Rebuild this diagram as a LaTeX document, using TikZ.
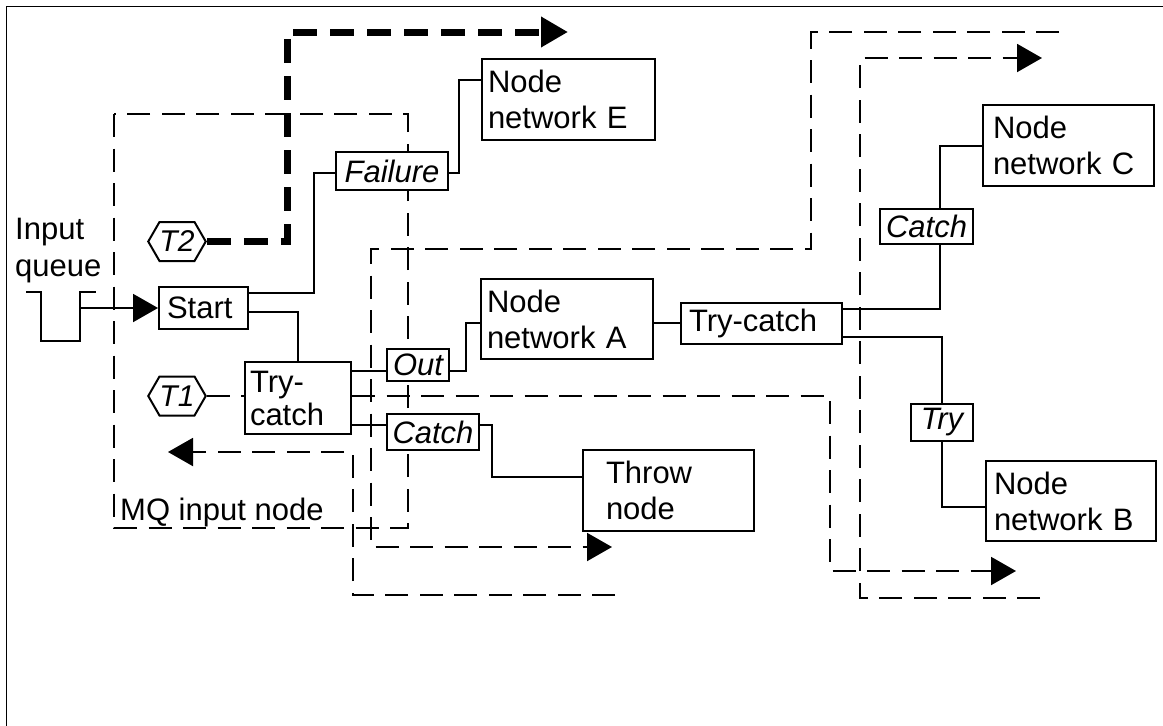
\documentclass[tikz,border=0pt]{standalone}
\usepackage{fontspec}
\setmainfont{Liberation Sans}
\usetikzlibrary{arrows.meta,shapes.symbols,backgrounds}
\begin{document}
\begin{tikzpicture}[x=1pt,y=-1pt,
  bx/.style={draw, line width=2pt, fill=white, anchor=north west, inner ysep=0pt, align=left, font=\fontsize{31}{36}\selectfont},
  lbl/.style={draw, line width=2pt, fill=white, anchor=north west, inner sep=0pt, align=center, font=\fontsize{31}{36}\selectfont\itshape},
  hex/.style={draw, line width=2pt, fill=white, signal, signal to=east and west, signal pointer angle=120, minimum width=49pt, minimum height=39pt, inner sep=0pt, font=\fontsize{30}{32}\selectfont\itshape},
  txt/.style={inner sep=0pt, align=left, font=\fontsize{31}{37}\selectfont},
  conn/.style={line width=2pt},
  flowopen/.style={line width=2pt, dash pattern=on 23pt off 11.5pt},
  flow/.style={flowopen, -{Triangle[length=25pt,width=28pt]}},
  thickflow/.style={line width=7pt, dash pattern=on 24pt off 13pt, -{Triangle[length=27pt,width=29pt]}},
  arr/.style={conn, -{Triangle[length=25pt,width=28pt]}}
]
\useasboundingbox (0,0) rectangle (1163,726);

% frame (only top and left are inside the picture)
\draw[line width=1.5pt] (6.5,760) -- (6.5,6.5) -- (1180,6.5);

% nodes
\node[bx, minimum width=173pt, minimum height=81pt, text width=161pt, inner xsep=6pt] (E) at (481,58) {Node\\network E};
\node[bx, minimum width=172pt, minimum height=80pt, text width=160pt, inner xsep=6pt] (NA) at (480,278) {Node\\network A};
\node[bx, minimum width=171pt, minimum height=81pt, text width=151pt, inner xsep=10pt] (NC) at (982,104) {Node\\network C};
\node[bx, minimum width=170pt, minimum height=80pt, text width=154pt, inner xsep=8pt] (NB) at (985,460) {Node\\network B};
\node[bx, minimum width=171pt, minimum height=81pt, text width=125pt, inner xsep=23pt] (TH) at (582,449) {Throw\\node};
\node[bx, minimum width=161pt, minimum height=41pt, text width=145pt, inner xsep=8pt] (TC2) at (680,302) {Try-catch};
\node[bx, minimum width=89pt, minimum height=42pt, text width=73pt, inner xsep=8pt] (ST) at (158,286) {Start};
\node[bx, minimum width=106pt, minimum height=72pt, text width=96pt, inner xsep=5pt, font=\fontsize{31}{33}\selectfont] (TC1) at (244,361) {Try-\\catch};

\node[lbl, minimum width=112pt, minimum height=38pt] (FA) at (335,151) {Failure};
\node[lbl, minimum width=62pt, minimum height=32pt] (OUT) at (386,348) {Out};
\node[lbl, minimum width=92pt, minimum height=36pt] (CA1) at (386,413) {Catch};
\node[lbl, minimum width=93pt, minimum height=35pt] (CA2) at (879,208) {Catch};
\node[lbl, minimum width=62pt, minimum height=37pt] (TRY) at (910,403) {Try};

\node[hex] (T2) at (177,241.5) {T2};
\node[hex] (T1) at (177,396) {T1};

\node[txt, anchor=north west] (IQ) at (15,218) {Input\\queue};
\node[txt, anchor=base west] (MQ) at (120,520) {MQ input node};

\coordinate (q) at (80,308);
\coordinate (d2s) at (1059,32);
\coordinate (d4s) at (615,595);
\coordinate (d5s) at (1040,598);

\begin{scope}[on background layer]
  \fill[white] (0,0) rectangle (1163,726);
  % MQ input node container
  \draw[flowopen] (114,114) rectangle (408,528);
  % flows
  \draw[thickflow] (T2.east) -- (287,241.5) -- (287,32) -- (568,32);
  \draw[flow] (d2s) -- (811,32) -- (811,249) -- (371,249) -- (371,547) -- (612,547);
  \draw[flowopen] (T1.east) -- (TC1.west |- T1.east);
  \draw[flow] (TC1.east |- T1.east) -- (830,396) -- (830,571) -- (1016,571);
  \draw[flow] (d4s) -- (353,595) -- (353,452) -- (168,452);
  \draw[flow] (d5s) -- (860,598) -- (860,58) -- (1042,58);
  % input queue
  \draw[conn] (26,292) -- (41,292) -- (41,341) -- (80,341) -- (80,292) -- (96,292);
  \draw[arr] (q) -- (ST.west);
  % solid connectors
  \draw[conn] (ST.east |- 0,293) -- (314,293) |- (FA.west |- 0,173);
  \draw[conn] (FA.east |- 0,173) -- (459,173) |- (E.west |- 0,80);
  \draw[conn] (ST.east |- 0,312) -| (TC1.north);
  \draw[conn] (TC1.east |- 0,371) -- (OUT.west |- 0,371);
  \draw[conn] (OUT.east |- 0,371) -- (466,371) |- (NA.west |- 0,323);
  \draw[conn] (TC1.east |- 0,425) -- (CA1.west |- 0,425);
  \draw[conn] (CA1.east |- 0,425) -- (492,425) |- (TH.west |- 0,477);
  \draw[conn] (NA.east |- 0,323) -- (TC2.west |- 0,323);
  \draw[conn] (TC2.east |- 0,309) -| (CA2.south -| 940,0);
  \draw[conn] (CA2.north -| 940,0) |- (NC.west);
  \draw[conn] (TC2.east |- 0,337) -| (TRY.north);
  \draw[conn] (TRY.south) |- (NB.west |- 0,507);
\end{scope}
\end{tikzpicture}
\end{document}
